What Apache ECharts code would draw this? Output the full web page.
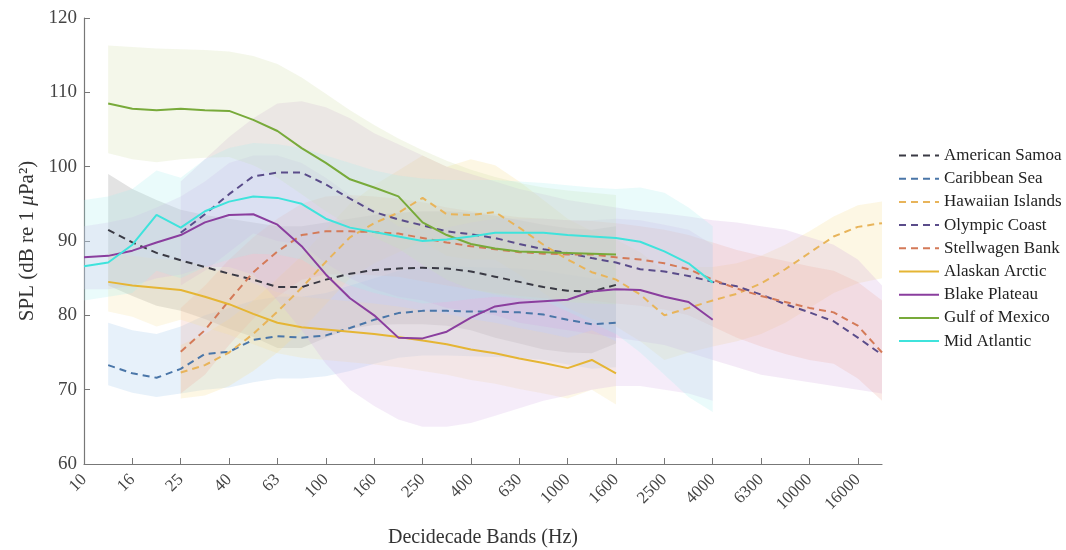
<!DOCTYPE html>
<html>
<head>
<meta charset="utf-8">
<script src="https://cdn.jsdelivr.net/npm/echarts@6/dist/echarts.min.js"></script>
<style>
  html, body { margin: 0; padding: 0; background: #fff; }
  #main { width: 1066px; height: 550px; }
</style>
</head>
<body>
<div id="main"></div>
<script>
// decidecade band centres (Hz), every other one labelled
const bands = ['10', '12.5', '16', '20', '25', '31.5', '40', '50', '63', '80', '100', '125', '160', '200',
  '250', '315', '400', '500', '630', '800', '1000', '1250', '1600', '2000', '2500', '3150', '4000', '5000',
  '6300', '8000', '10000', '12500', '16000', '20000']

// median SPL per site, first value sits at band index "start"
const samoaStart = 1
const samoa = [91.5, 89.8, 88.4, 87.4, 86.5, 85.6, 84.8, 83.8, 83.8, 84.8, 85.6, 86.1, 86.3, 86.4, 86.3, 85.9, 85.2, 84.5, 83.8, 83.3, 83.2, 84.1]
const samoaHi = [99, 97, 95.5, 94.2, 93.5, 93, 92.5, 92, 92, 92.5, 93, 93.5, 93.8, 94, 94, 93.8, 93.4, 92.8, 92.2, 91.7, 91.5, 92]
const samoaLo = [84, 82.6, 81.3, 80.6, 79.5, 78.2, 77.1, 75.6, 75.6, 77, 78.2, 78.7, 78.8, 78.8, 78.6, 78, 77, 76.2, 75.4, 75, 74.9, 76.2]

const caribStart = 1
const carib = [73.3, 72.2, 71.6, 72.8, 74.8, 75.1, 76.7, 77.2, 77.0, 77.3, 78.3, 79.4, 80.3, 80.6, 80.6, 80.5, 80.5, 80.4, 80.1, 79.4, 78.8, 79.0]
const caribHi = [79, 78, 77.5, 78.5, 80, 81, 82, 82.5, 82.5, 83, 84, 85, 86, 86.5, 86.6, 86.5, 86.4, 86.3, 86, 85.5, 85, 85]
const caribLo = [70.6, 69.6, 69, 69.5, 70, 70.3, 71, 71.5, 71.5, 71.8, 72.5, 73.5, 74.3, 74.6, 74.6, 74.5, 74.4, 74.3, 74, 73.4, 72.8, 73]

const hawaiiStart = 4
const hawaii = [72.3, 73.3, 75, 77.5, 80.5, 83.7, 87.2, 90.5, 92.4, 93.8, 95.8, 93.6, 93.5, 93.9, 91.8, 89.5, 87.5, 85.8, 84.8, 82.8,
  80.0, 81.0, 82.0, 82.9, 84.3, 86.2, 88.4, 90.6, 91.9, 92.4]
const hawaiiHi = [76, 77.5, 79.5, 82, 85, 88, 91.5, 95, 97.5, 99.5, 101.5, 100, 101, 100.2, 98, 95.5, 93, 91.3, 90.2, 88.5,
  86, 86.5, 86.5, 87, 88, 89.5, 91.3, 93.3, 94.8, 95.3]
const hawaiiLo = [68.8, 69.2, 70.5, 72.5, 75, 78, 81.5, 85, 87, 88.5, 90, 88, 87.5, 87.5, 85.5, 83, 81, 79.5, 78.5, 76.5,
  74, 75, 75.8, 76.5, 77.5, 79, 81, 83, 84.3, 85]

const olympicStart = 4
const olympic = [91.1, 93.6, 96.3, 98.7, 99.2, 99.2, 97.6, 95.7, 93.9, 92.9, 92.1, 91.3, 90.9, 90.4, 89.6, 88.9, 88.4, 87.7, 87.1, 86.2,
  85.9, 85.3, 84.5, 83.9, 82.8, 81.5, 80.4, 79.2, 77.0, 74.7]
const olympicHi = [98, 101, 104, 106.5, 108.5, 108.8, 108, 106.5, 104.5, 103, 101.5, 100, 99, 98, 97, 96.3, 95.5, 95, 94.5, 94,
  93.7, 93.3, 92.8, 92.5, 92, 91.5, 90.5, 89.5, 87.5, 84]
const olympicLo = [84, 86, 88.5, 91, 90, 89.5, 87, 85, 83.5, 82.5, 82, 81, 80.5, 80, 79, 78.5, 78, 77.5, 77, 76.5,
  76, 75, 74, 73, 72, 71.5, 71, 70.5, 70, 69.5]

const stellStart = 4
const stell = [75.1, 78.0, 82.0, 85.8, 88.6, 90.8, 91.3, 91.3, 91.2, 91.0, 90.4, 89.8, 89.3, 88.9, 88.5, 88.3, 88.2, 88.2, 87.8, 87.5,
  87.0, 86.2, 84.8, 83.6, 82.6, 81.8, 81.0, 80.4, 78.6, 75.0]
const stellHi = [81, 84, 87.5, 90.5, 93, 95, 96, 96.2, 96, 95.7, 95.2, 94.5, 94, 93.6, 93.2, 93, 92.8, 92.7, 92.4, 92,
  91.5, 90.8, 89.8, 88.8, 88, 87.3, 86.6, 86, 84.5, 82]
const stellLo = [69.5, 72, 76, 79.5, 82.5, 84.8, 85.5, 85.5, 85.4, 85.2, 84.6, 84, 83.5, 83, 82.6, 82.3, 82.1, 82, 81.6, 81.3,
  80.8, 80, 78.5, 77, 75.8, 74.8, 74, 73.5, 71.5, 68.5]

const alaskaStart = 1
const alaska = [84.5, 84, 83.7, 83.4, 82.5, 81.5, 80.2, 79, 78.4, 78.1, 77.8, 77.5, 77.1, 76.6, 76.1, 75.4, 74.9, 74.2, 73.6, 72.9, 74.0, 72.2]
const alaskaHi = [88.5, 88, 87.6, 87.4, 86.6, 85.6, 84.3, 83.1, 82.5, 82.2, 81.9, 81.6, 81.2, 80.7, 80.2, 79.5, 79, 78.3, 77.7, 77, 78, 76.5]
const alaskaLo = [80.5, 79.8, 78.5, 79.4, 78.4, 77.4, 76.1, 74.9, 74.3, 74, 73.7, 73.4, 73, 72.5, 72, 71.3, 70.8, 70.1, 69.5, 68.8, 70, 68]

const blakeStart = 0
const blake = [87.8, 88, 88.7, 89.8, 90.8, 92.5, 93.5, 93.6, 92.2, 89.3, 85.5, 82.3, 80, 77, 76.9, 77.8, 79.7, 81.2, 81.7, 81.9,
  82.1, 83.2, 83.5, 83.4, 82.5, 81.8, 79.4]
const blakeHi = [92, 92.5, 93.2, 94.5, 96, 98, 100.5, 101.5, 101.5, 100.5, 98.5, 96.2, 94.2, 92, 91.5, 91.8, 92.5, 93, 93, 93,
  92.8, 92.8, 93, 92.8, 92.2, 91.5, 89.5]
const blakeLo = [83.5, 83.5, 84, 85, 85.5, 86.5, 86.5, 85.5, 82, 78, 73.5, 70, 67.8, 66, 65, 65, 65.5, 66.5, 67.5, 68.5,
  69.2, 70, 70.5, 70.5, 70, 69.5, 68.5]

const gulfStart = 1
const gulf = [108.5, 107.8, 107.6, 107.8, 107.6, 107.5, 106.3, 104.8, 102.5, 100.5, 98.3, 97.2, 96, 92.5, 90.8, 89.6, 89, 88.6, 88.5, 88.4, 88.3, 88.2]
const gulfHi = [116.3, 116.1, 115.9, 115.8, 115.7, 115.5, 114.9, 113.8, 112, 109.8, 107.6, 105.6, 103.8, 102.2, 100.8, 99.6, 98.6, 97.8, 97.2, 96.8, 96.5, 96.2]
const gulfLo = [101.8, 101, 100.6, 101, 101.2, 101.3, 100.2, 98.5, 96.3, 94, 92, 90.5, 89, 86.8, 84.8, 83.5, 82.8, 82.3, 82, 81.8, 81.6, 81.5]

const midStart = 0
const mid = [86.6, 87.1, 89.5, 93.5, 91.8, 94, 95.3, 96, 95.8, 95, 93, 91.8, 91.2, 90.6, 90, 90.2, 90.6, 91.1, 91.1, 91.1,
  90.8, 90.6, 90.4, 89.9, 88.6, 87, 84.4]
const midHi = [95.5, 96, 97, 99.5, 98.5, 101, 102.5, 103.2, 103, 102.5, 101.5, 100.5, 99.5, 98.8, 98.4, 98.2, 98.2, 98.2, 98, 97.8,
  97.5, 97.2, 97, 97.2, 96.5, 94.5, 92]
const midLo = [82, 82.5, 83, 86, 85, 86.5, 87.5, 88.3, 88.2, 87.5, 85.5, 84, 83, 82.3, 81.6, 81.8, 82.2, 82.5, 82.3, 82,
  80.5, 79, 77.5, 75, 72, 69, 67]

const sites = [
  { name: 'American Samoa', start: samoaStart, mid: samoa, hi: samoaHi, lo: samoaLo, color: '#3a3a44', fill: '#8a8a8a', dash: true },
  { name: 'Caribbean Sea', start: caribStart, mid: carib, hi: caribHi, lo: caribLo, color: '#4a76a8', fill: '#9cc6ea', dash: true },
  { name: 'Hawaiian Islands', start: hawaiiStart, mid: hawaii, hi: hawaiiHi, lo: hawaiiLo, color: '#e8b45a', fill: '#f7de90', dash: true },
  { name: 'Olympic Coast', start: olympicStart, mid: olympic, hi: olympicHi, lo: olympicLo, color: '#5a4c8a', fill: '#cfa8dc', dash: true },
  { name: 'Stellwagen Bank', start: stellStart, mid: stell, hi: stellHi, lo: stellLo, color: '#d47a58', fill: '#efaaa0', dash: true },
  { name: 'Alaskan Arctic', start: alaskaStart, mid: alaska, hi: alaskaHi, lo: alaskaLo, color: '#e5b534', fill: '#f5e0a0', dash: false },
  { name: 'Blake Plateau', start: blakeStart, mid: blake, hi: blakeHi, lo: blakeLo, color: '#8a3e9e', fill: '#d6b0e4', dash: false },
  { name: 'Gulf of Mexico', start: gulfStart, mid: gulf, hi: gulfHi, lo: gulfLo, color: '#78aa3a', fill: '#cfdca6', dash: false },
  { name: 'Mid Atlantic', start: midStart, mid: mid, hi: midHi, lo: midLo, color: '#3fe3dc', fill: '#a8f0f0', dash: false },
]

// put a site's list onto the full band axis
function place(start, vals) {
  const out = bands.map(() => '-')
  vals.forEach((v, i) => { out[start + i] = v })
  return out
}

const serif = 'Liberation Serif'
const series = []

sites.forEach((s, k) => {
  series.push({
    name: s.name + ' lo',
    type: 'line',
    stack: 'band' + k,
    data: place(s.start, s.lo),
    symbol: 'none',
    lineStyle: { opacity: 0 },
    silent: true,
    z: 1,
  })
  series.push({
    name: s.name + ' band',
    type: 'line',
    stack: 'band' + k,
    data: place(s.start, s.hi.map((h, i) => +(h - s.lo[i]).toFixed(2))),
    symbol: 'none',
    lineStyle: { opacity: 0 },
    areaStyle: { color: s.fill, opacity: 0.24 },
    silent: true,
    z: 1,
  })
})

sites.forEach((s) => {
  series.push({
    name: s.name,
    type: 'line',
    data: place(s.start, s.mid),
    symbol: 'none',
    color: s.color,
    itemStyle: { color: s.color, opacity: 0 },
    lineStyle: { color: s.color, width: 2, type: s.dash ? [7, 5] : 'solid' },
    z: 3,
  })
})

const chart = echarts.init(document.getElementById('main'))
chart.setOption({
  animation: false,
  backgroundColor: '#fff',
  grid: { left: 84, right: 184, top: 18, bottom: 86, outerBoundsMode: 'none' },
  legend: {
    data: sites.map((s) => s.name),
    orient: 'vertical',
    left: 893,
    top: 142,
    itemWidth: 40,
    itemHeight: 14,
    itemGap: 6.2,
    itemStyle: { opacity: 0 },
    textStyle: { fontFamily: serif, fontSize: 17, color: '#222' },
  },
  xAxis: {
    type: 'category',
    data: bands,
    boundaryGap: false,
    name: 'Decidecade Bands (Hz)',
    nameLocation: 'middle',
    nameGap: 64,
    nameTextStyle: { fontFamily: serif, fontSize: 20, color: '#333' },
    axisLine: { lineStyle: { color: '#777', width: 1.2 } },
    axisTick: { inside: true, length: 6, interval: 1, lineStyle: { color: '#777' } },
    axisLabel: { interval: 1, rotate: 45, fontFamily: serif, fontSize: 17, color: '#444', margin: 13 },
    splitLine: { show: false },
  },
  yAxis: {
    type: 'value',
    min: 60,
    max: 120,
    interval: 10,
    name: 'SPL (dB re 1 {i|μ}Pa²)',
    nameLocation: 'middle',
    nameGap: 40,
    nameTextStyle: {
      fontFamily: serif, fontSize: 21, color: '#333',
      rich: { i: { fontFamily: serif, fontSize: 21, fontStyle: 'italic', color: '#333' } },
    },
    axisLine: { show: true, lineStyle: { color: '#777', width: 1.2 } },
    axisTick: { show: true, inside: true, length: 6, lineStyle: { color: '#777' } },
    axisLabel: { fontFamily: serif, fontSize: 19, color: '#444', margin: 7 },
    splitLine: { show: false },
  },
  series: series,
})
</script>
</body>
</html>
